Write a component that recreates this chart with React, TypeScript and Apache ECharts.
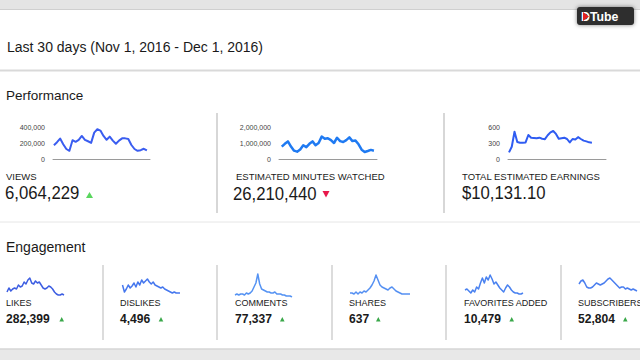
import React, { useEffect, useRef } from "react";
import * as echarts from "echarts";

// ---- Data ----
const days = Array.from({ length: 31 }, (_, i) => i); // Nov 1 .. Dec 1

const viewsDaily = [172000, 210000, 255000, 185000, 125000, 103000, 235000, 215000, 240000, 288000, 240000, 222000, 202000, 330000, 372000, 355000, 288000, 240000, 280000, 230000, 190000, 230000, 258000, 258000, 250000, 175000, 125000, 103000, 110000, 128000, 107000];
const minutesDaily = [770000, 950000, 1100000, 780000, 520000, 460000, 600000, 860000, 740000, 950000, 1100000, 860000, 1000000, 1400000, 1260000, 1300000, 1180000, 1000000, 1330000, 1120000, 1060000, 1180000, 1350000, 1120000, 1150000, 920000, 580000, 440000, 500000, 570000, 520000];
const earningsDaily = [125, 230, 510, 320, 305, 305, 310, 450, 400, 395, 390, 400, 380, 372, 445, 500, 525, 470, 380, 390, 400, 375, 310, 375, 365, 410, 375, 345, 330, 312, 305];

const likesDaily = [7000, 9400, 7600, 8800, 9400, 8800, 11200, 10000, 10600, 13000, 11800, 14200, 15400, 12400, 11800, 13600, 12400, 13000, 11200, 9400, 8800, 9400, 10600, 10000, 8800, 7000, 5800, 5200, 5200, 5800, 5200];
const dislikesDaily = [172, 130, 148, 172, 154, 166, 184, 160, 190, 172, 202, 184, 196, 208, 190, 178, 190, 172, 166, 160, 154, 160, 148, 142, 136, 130, 124, 130, 124, 124, 124];
const commentsDaily = [1900, 2100, 1900, 2100, 2100, 1900, 2300, 2100, 2300, 2700, 3500, 4300, 6100, 4100, 3100, 2900, 2700, 2500, 2500, 2300, 2300, 2500, 2100, 2100, 2100, 1900, 1900, 1700, 1700, 1700, 1500];
const sharesDaily = [14, 14, 13, 15, 13, 15, 14, 16, 15, 17, 19, 22, 26, 32, 27, 22, 20, 19, 18, 17, 19, 20, 18, 16, 15, 14, 13, 13, 13, 13, 13];
const favoritesDaily = [320, 330, 310, 290, 320, 300, 350, 330, 390, 440, 390, 450, 420, 470, 430, 380, 400, 370, 340, 320, 300, 340, 370, 350, 320, 300, 290, 290, 280, 280, 290];
const subscribersDaily = [1650, 1800, 1850, 1700, 1500, 1450, 1450, 1500, 1600, 1700, 1650, 1600, 1650, 1700, 1800, 1900, 1950, 1850, 1750, 1650, 1550, 1450, 1500, 1500, 1400, 1450, 1400, 1350, 1400, 1350, 1300];

const periodTitle = "Last 30 days (Nov 1, 2016 - Dec 1, 2016)";
const perfLabels = ["VIEWS", "ESTIMATED MINUTES WATCHED", "TOTAL ESTIMATED EARNINGS"];
const perfTotals = ["6,064,229", "26,210,440", "$10,131.10"];
const engLabels = ["LIKES", "DISLIKES", "COMMENTS", "SHARES", "FAVORITES ADDED", "SUBSCRIBERS"];
const engTotals = ["282,399", "4,496", "77,337", "637", "10,479", "52,804"];

const FONT = "'Liberation Sans', Arial, Helvetica, sans-serif";

function txt(x: number, y: number, text: string, size: number, extra: any = {}) {
  const { scaleX, weight, fill, align } = extra;
  return {
    type: "text",
    x,
    y,
    scaleX: scaleX ?? 1,
    silent: true,
    style: {
      text,
      fill: fill ?? "#1a1a1a",
      fontSize: size,
      fontFamily: FONT,
      fontWeight: weight ?? "normal",
      textAlign: align ?? "left",
      textVerticalAlign: "middle",
      verticalAlign: "middle",
    },
  };
}

function vline(x: number, y1: number, y2: number, color: string, w: number) {
  return { type: "line", silent: true, shape: { x1: x, y1, x2: x, y2 }, style: { stroke: color, lineWidth: w } };
}
function hline(y: number, x1: number, x2: number, color: string, w: number) {
  return { type: "line", silent: true, shape: { x1, y1: y, x2, y2: y }, style: { stroke: color, lineWidth: w } };
}
function tri(points: number[][], fill: string) {
  return { type: "polygon", silent: true, shape: { points }, style: { fill } };
}

export default function App() {
  const ref = useRef<HTMLDivElement>(null);

  useEffect(() => {
    if (!ref.current) return;
    const chart = echarts.init(ref.current, undefined, { renderer: "svg" });

    // performance sparkline charts (with axes)
    const perf = [
      { data: viewsDaily, left: 53, width: 97, xmin: -0.3, xmax: 31, max: 400000, interval: 200000, color: "#3a5df0", lw: 2 },
      { data: minutesDaily, left: 279, width: 98, xmin: -0.9, xmax: 31, max: 2000000, interval: 1000000, color: "#1f7af2", lw: 2.5 },
      { data: earningsDaily, left: 508, width: 98, xmin: -0.36, xmax: 35.1, max: 600, interval: 300, color: "#2f5cf2", lw: 2 },
    ];
    // engagement sparklines (no axes)
    const eng = [
      { data: likesDaily, left: 7, width: 57, min: 4000, max: 20200, color: "#3d5ee2" },
      { data: dislikesDaily, left: 122.5, width: 57.5, min: 100, max: 262, color: "#4577ee" },
      { data: commentsDaily, left: 235, width: 57, min: 1500, max: 6900, color: "#5593f3" },
      { data: sharesDaily, left: 350, width: 60, min: 10, max: 37, color: "#5590f2" },
      { data: favoritesDaily, left: 465, width: 58, min: 250, max: 520, color: "#4a82f0" },
      { data: subscribersDaily, left: 579, width: 58, min: 1000, max: 2350, color: "#4a7eef" },
    ];

    const grids: any[] = [];
    const xAxes: any[] = [];
    const yAxes: any[] = [];
    const series: any[] = [];

    perf.forEach((p, i) => {
      grids.push({ left: p.left, top: 127, width: p.width, height: 32 });
      xAxes.push({
        type: "value", gridIndex: i, min: p.xmin, max: p.xmax,
        axisLine: { show: true, lineStyle: { color: "#9a9a9a", width: 1 } },
        axisTick: { show: false }, axisLabel: { show: false }, splitLine: { show: false },
      });
      yAxes.push({
        type: "value", gridIndex: i, min: 0, max: p.max, interval: p.interval,
        axisLine: { show: false }, axisTick: { show: false }, splitLine: { show: false },
        axisLabel: { fontSize: 7, color: "#444", fontFamily: FONT, margin: 8 },
      });
      series.push({
        type: "line", xAxisIndex: i, yAxisIndex: i, showSymbol: false, symbol: "none",
        data: p.data.map((v, k) => [days[k], v]),
        lineStyle: { color: p.color, width: p.lw, join: "round" },
      });
    });

    eng.forEach((e, j) => {
      const i = j + perf.length;
      grids.push({ left: e.left, top: 270, width: e.width, height: 27 });
      xAxes.push({ type: "value", gridIndex: i, min: 0, max: 30, show: false });
      yAxes.push({ type: "value", gridIndex: i, min: e.min, max: e.max, show: false, splitLine: { show: false } });
      series.push({
        type: "line", xAxisIndex: i, yAxisIndex: i, showSymbol: false, symbol: "none",
        data: e.data.map((v, k) => [days[k], v]),
        lineStyle: { color: e.color, width: 1.5, join: "round" },
      });
    });

    const engX = [6, 120, 235, 349, 464, 578];
    const engTri = [61.7, 161, 282.3, 378.3, 511.7, 625.3];

    const graphics: any[] = [
      // page chrome
      { type: "rect", silent: true, shape: { x: 0, y: 0, width: 640, height: 9 }, style: { fill: "#e4e4e4" } },
      hline(9.5, 0, 640, "#cfcfcf", 1),
      hline(70.5, 0, 640, "#d9d9d9", 2),
      hline(222, 0, 640, "#e6e6e6", 1),
      { type: "rect", silent: true, shape: { x: 0, y: 349, width: 640, height: 11 }, style: { fill: "#e8e8e8" } },
      hline(349, 0, 640, "#d6d6d6", 1.5),
      // DTube logo
      { type: "rect", silent: true, shape: { x: 577, y: 7, width: 57, height: 18, r: 3 }, style: { fill: "#2e2e2e", shadowBlur: 4, shadowColor: "rgba(0,0,0,0.5)" } },
      txt(581, 16.5, "DTube", 13, { weight: "bold", fill: "#ffffff", scaleX: 0.95 }),
      tri([[583, 12], [583, 21], [589, 16.5]], "#e52222"),
      // titles
      txt(7, 47, periodTitle, 14),
      txt(6, 95, "Performance", 13.5),
      txt(6, 246.5, "Engagement", 14),
      // performance cards
      vline(217, 113, 213, "#cacaca", 1.5),
      vline(444, 113, 213, "#cacaca", 1.5),
      txt(6, 176.5, perfLabels[0], 9.5),
      txt(236, 176.5, perfLabels[1], 9.5),
      txt(462, 176.5, perfLabels[2], 9.5),
      txt(5, 193, perfTotals[0], 19, { scaleX: 0.88 }),
      txt(233, 194, perfTotals[1], 19, { scaleX: 0.88 }),
      txt(462, 193, perfTotals[2], 19, { scaleX: 0.88 }),
      tri([[86, 198], [93, 198], [89.5, 192]], "#5ad65e"),
      tri([[322.5, 191], [329.5, 191], [326, 197.5]], "#e8194b"),
      // engagement dividers
      ...[103, 217, 332, 446, 561].map((x) => vline(x, 265, 340, "#d0d0d0", 1.5)),
    ];

    engLabels.forEach((l, k) => {
      graphics.push(txt(engX[k], 302.5, l, 9));
      graphics.push(txt(engX[k], 318.5, engTotals[k], 13, { weight: "bold", scaleX: 0.93 }));
      const c = engTri[k];
      graphics.push(tri([[c - 2.3, 321.5], [c + 2.3, 321.5], [c, 317]], "#3aa84a"));
    });

    chart.setOption({
      animation: false,
      backgroundColor: "#ffffff",
      textStyle: { fontFamily: FONT },
      grid: grids,
      xAxis: xAxes,
      yAxis: yAxes,
      series,
      graphic: graphics,
    });

    return () => chart.dispose();
  }, []);

  return (
    <div
      ref={ref}
      style={{ position: "fixed", left: 0, top: 0, width: 640, height: 360 }}
    />
  );
}
